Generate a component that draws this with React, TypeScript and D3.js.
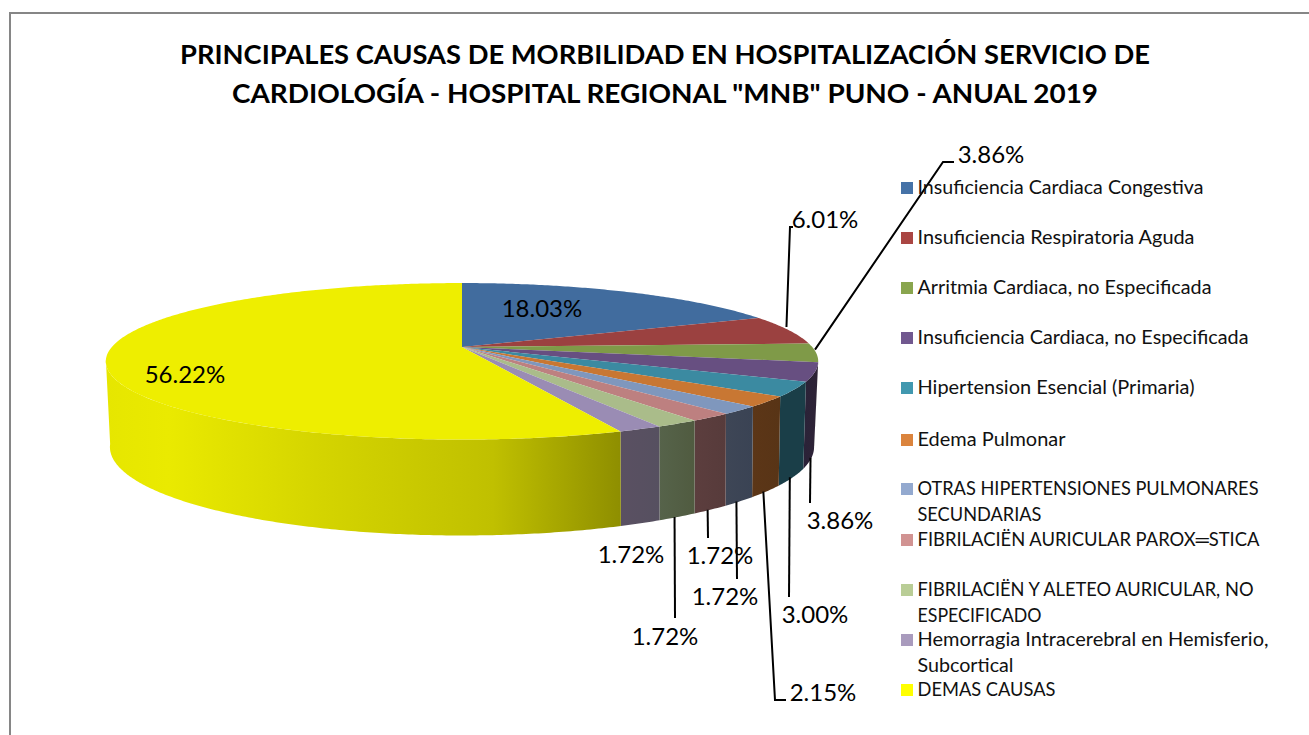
import React from "react";
import * as d3 from "d3";

const titleLines = [
  'PRINCIPALES CAUSAS DE MORBILIDAD EN HOSPITALIZACIÓN SERVICIO DE',
  'CARDIOLOGÍA - HOSPITAL REGIONAL "MNB" PUNO - ANUAL 2019',
];
const titleWidths = [970, 866];
const categories = [
  ["Insuficiencia Cardiaca Congestiva"],
  ["Insuficiencia Respiratoria Aguda"],
  ["Arritmia Cardiaca, no Especificada"],
  ["Insuficiencia Cardiaca, no Especificada"],
  ["Hipertension Esencial (Primaria)"],
  ["Edema Pulmonar"],
  ["OTRAS HIPERTENSIONES PULMONARES", "SECUNDARIAS"],
  ["FIBRILACIËN AURICULAR PAROX═STICA"],
  ["FIBRILACIËN Y ALETEO AURICULAR, NO", "ESPECIFICADO"],
  ["Hemorragia Intracerebral en Hemisferio,", "Subcortical"],
  ["DEMAS CAUSAS"],
];
const legendWidths = [[286], [277], [294], [331], [277], [148], [341, 124], [342], [336, 124], [351, 96], [138]];
const values = [18.03, 6.01, 3.86, 3.86, 3.0, 2.15, 1.72, 1.72, 1.72, 1.72, 56.22];

const topColors = ["#416C9E", "#9B4140", "#7F9A48", "#674F81", "#3B8AA1", "#C87733", "#7F97BD", "#BD8080", "#AABC8A", "#9A8CB4", "#EEEE00"];
const legendColors = ["#4572A7", "#AA4643", "#89A54E", "#71588F", "#4198AF", "#DB843D", "#93A9CF", "#D19392", "#B9CD96", "#A99BBD", "#FFFF00"];
const wallColors: [string, string][] = [
  ["#2A4766", "#2A4766"], ["#5E2A2A", "#5E2A2A"], ["#4E5E2C", "#4E5E2C"],
  ["#2A2238", "#2E2336"], ["#1A3E48", "#1A3E48"], ["#5C3617", "#583416"],
  ["#3E4656", "#3A4354"], ["#5C3E3E", "#573B3B"], ["#56634A", "#505B40"],
  ["#5A5062", "#565060"], ["#EAEA00", "#8E8E00"],
];

const legendY = [188, 238, 288, 338, 388, 440, 489, 540, 590, 640, 690];
const legendLine = 26;

// label centre (x, y) and leader polyline after its pie anchor (null: no leader)
const labelPos: [number, number][] = [
  [542, 309], [825, 220], [991, 155], [840, 521], [815, 615], [823, 693], [725, 597], [720, 556], [665, 637], [631, 555], [185, 375],
];
const leaders: ([number, number][] | null)[] = [
  null,
  [[790, 227], [793, 227]],
  [[943, 162], [954, 162]],
  [[810, 503]],
  [[789, 597]],
  [[775, 700], [786, 700]],
  [[737, 579]],
  [[708, 538]],
  [[675, 618]],
  null,
  null,
];
const leaderOnTop = [false, true, true, false, false, false, false, false, false, false, false];
const leaderNudge: [number, number][] = [
  [0, 0], [-2, -3], [-1, -3], [-1, 0], [-3, 0], [-3, 0], [-3, 0], [-3, 0], [-3, 0], [0, 0], [0, 0],
];

const cx = 462;
const apexY = 347;
const topRing = { cy: 348, R: 351, H: 76, k: 0.17 };
const botRing = { cy: 430.7, R: 346, H: 85.4, k: 0.185 };
const project = (ring: typeof topRing, t: number): [number, number] => {
  const w = 1 + ring.k * Math.cos(t);
  return [cx + (ring.R * Math.sin(t)) / w, ring.cy - (ring.H * Math.cos(t)) / w];
};
const arcPts = (ring: typeof topRing, a: number, b: number) => {
  const n = Math.max(2, Math.ceil(Math.abs(b - a) / 0.01));
  return d3.range(n + 1).map((i) => project(ring, a + ((b - a) * i) / n));
};

const pieGen = d3.pie<number>().sort(null).value((d) => d);
const arcs = pieGen(values);
const line = d3.line();
const RIGHT_LIMIT = Math.acos(-topRing.k);
const LEFT_LIMIT = 2 * Math.PI - Math.acos(-topRing.k) + 0.02;

const FONT = "Lato, sans-serif";

export default function App() {
  return (
    <svg width={1309} height={735} style={{ position: "absolute", left: 0, top: 0, background: "#fff" }} fontFamily={FONT}>
      <defs>
        <linearGradient id="yw" gradientUnits="userSpaceOnUse" x1={106} x2={622} y1={0} y2={0}>
          <stop offset="0" stopColor="#E6E600" />
          <stop offset="0.12" stopColor="#EAEA00" />
          <stop offset="0.42" stopColor="#D4D400" />
          <stop offset="0.75" stopColor="#C0C000" />
          <stop offset="1" stopColor="#8E8E00" />
        </linearGradient>
        {arcs.map((a, i) => (
          <linearGradient id={`w${i}`} key={i}>
            <stop offset="0" stopColor={wallColors[i][0]} />
            <stop offset="1" stopColor={wallColors[i][1]} />
          </linearGradient>
        ))}
      </defs>
      <rect x={10} y={13} width={1400} height={800} fill="#fff" stroke="#868686" strokeWidth={2} />

      {titleLines.map((t, i) => (
        <text key={i} x={665} y={64 + i * 38.5} textAnchor="middle" fontWeight={700} fontSize={27.5} fill="#000"
          textLength={titleWidths[i]} lengthAdjust="spacingAndGlyphs">
          {t}
        </text>
      ))}

      {arcs.map((a, i) => {
        const s = Math.max(a.startAngle, RIGHT_LIMIT);
        const e = Math.min(a.endAngle, LEFT_LIMIT);
        if (e <= s) return null;
        const pts = [...arcPts(topRing, s, e), ...arcPts(botRing, e, s)];
        return <path key={i} d={line(pts) + "Z"} fill={i === 10 ? "url(#yw)" : `url(#w${i})`} />;
      })}

      {arcs.map((a, i) => {
        const pts: [number, number][] = [[cx, apexY], ...arcPts(topRing, a.startAngle, a.endAngle)];
        return <path key={i} d={line(pts) + "Z"} fill={topColors[i]} />;
      })}

      {arcs.map((a, i) => {
        const lp = leaders[i];
        if (!lp) return null;
        const mid = (a.startAngle + a.endAngle) / 2;
        const p = project(leaderOnTop[i] ? topRing : botRing, mid);
        const anchor: [number, number] = [p[0] + leaderNudge[i][0], p[1] + leaderNudge[i][1]];
        return <path key={i} d={line([anchor, ...lp]) ?? ""} fill="none" stroke="#000" strokeWidth={2} />;
      })}

      {arcs.map((a, i) => (
        <text key={i} x={labelPos[i][0]} y={labelPos[i][1]} dy="0.35em" textAnchor="middle" fontSize={24} fill="#000">
          {values[i].toFixed(2)}%
        </text>
      ))}

      {categories.map((lines, i) => (
        <g key={i}>
          <rect x={901} y={legendY[i] - 6} width={12} height={12} fill={legendColors[i]} />
          {lines.map((l, j) => (
            <text key={j} x={917.5} y={legendY[i] + j * legendLine} dy="0.35em" fontSize={18.5} fill="#111"
              textLength={legendWidths[i][j]} lengthAdjust="spacingAndGlyphs">
              {l}
            </text>
          ))}
        </g>
      ))}
    </svg>
  );
}
